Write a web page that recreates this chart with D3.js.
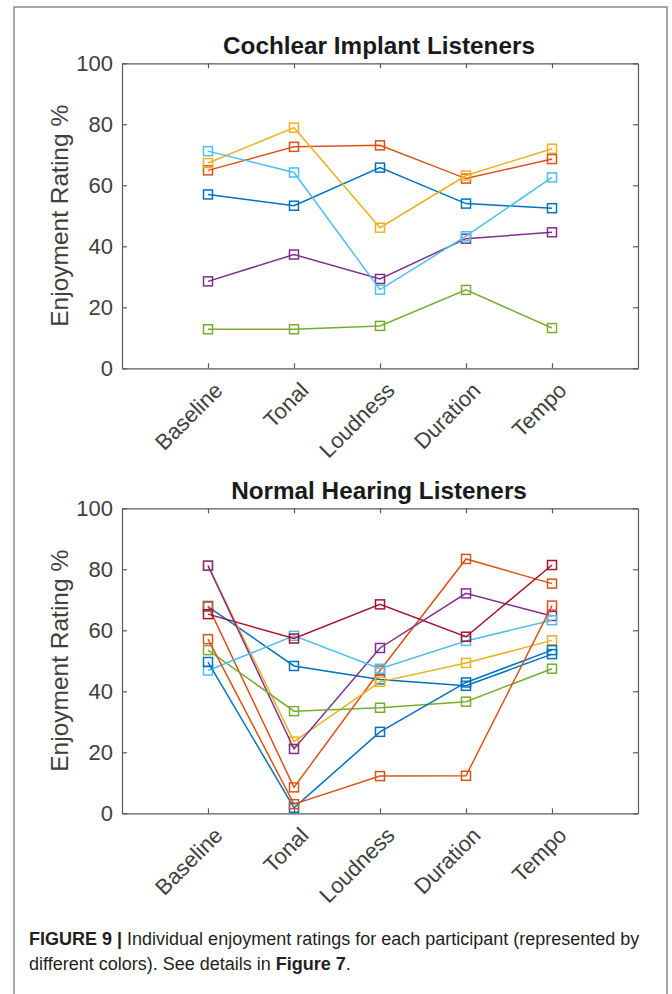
<!DOCTYPE html>
<html>
<head>
<meta charset="utf-8">
<script src="https://cdn.jsdelivr.net/npm/d3@7"></script>
<style>
  html, body { margin: 0; padding: 0; background: #fff; }
  svg { display: block; }
  text { font-family: "Liberation Sans", Arial, Helvetica, sans-serif; }
</style>
</head>
<body>
<svg id="chart" width="672" height="994"></svg>
<script>
// ---- Data ----
const categories = ["Baseline", "Tonal", "Loudness", "Duration", "Tempo"];
const yTicks = [0, 20, 40, 60, 80, 100];
const seriesColors = ["#0072BD", "#D95319", "#EDB120", "#7E2F8E", "#77AC30", "#4DBEEE", "#A2142F", "#0072BD", "#D95319"];

// Cochlear implant listeners (one array per participant)
const ci1 = [57.0, 53.3, 65.8, 54.0, 52.5];
const ci2 = [64.9, 72.6, 73.1, 62.2, 68.6];
const ci3 = [67.3, 78.9, 46.1, 63.2, 72.0];
const ci4 = [28.5, 37.3, 29.3, 42.5, 44.6];
const ci5 = [12.8, 12.8, 13.9, 25.7, 13.2];
const ci6 = [71.2, 64.2, 25.8, 43.3, 62.6];

// Normal hearing listeners
const nh1 = [67.8, 48.3, 43.9, 41.8, 52.2];
const nh2 = [68.0, 8.5, 46.8, 83.4, 75.3];
const nh3 = [81.2, 23.5, 43.1, 49.3, 56.7];
const nh4 = [81.2, 21.1, 54.2, 72.1, 64.7];
const nh5 = [53.5, 33.5, 34.6, 36.6, 47.4];
const nh6 = [46.8, 58.2, 47.4, 56.5, 63.3];
const nh7 = [65.3, 57.3, 68.5, 57.9, 81.4];
const nh8 = [49.6, 1.8, 26.7, 42.9, 53.5];
const nh9 = [57.1, 3.0, 12.2, 12.3, 68.1];

const ciSeries = [ci1, ci2, ci3, ci4, ci5, ci6];
const nhSeries = [nh1, nh2, nh3, nh4, nh5, nh6, nh7, nh8, nh9];

const titles = ["Cochlear Implant Listeners", "Normal Hearing Listeners"];
const yLabel = "Enjoyment Rating %";

// ---- Drawing ----
const svg = d3.select("#chart");
const axisColor = "#5a5a5a";
const textColor = "#404040";

// outer figure frame (open at the bottom)
svg.append("path")
  .attr("d", "M14,994 L14,7 L667,7 L667,994")
  .attr("fill", "none")
  .attr("stroke", "#8a8a8a")
  .attr("stroke-width", 1.5);

const x = d3.scaleLinear().domain([0, 6]).range([122, 638]);

function panel(bottomY, title, series) {
  const y = d3.scaleLinear().domain([0, 100]).range([bottomY, bottomY - 305]);
  const g = svg.append("g");

  // axes box with inward ticks
  const gb = g.append("g").attr("transform", `translate(0,${bottomY})`)
    .call(d3.axisBottom(x).tickValues([1, 2, 3, 4, 5]).tickSizeInner(-5).tickSizeOuter(0)
      .tickFormat(d => categories[d - 1]));
  gb.selectAll(".tick text")
    .attr("x", 0).attr("y", 0).attr("dy", "0.35em")
    .attr("text-anchor", "end")
    .attr("transform", "translate(10,18) rotate(-45)")
    .attr("font-size", 22)
    .attr("fill", textColor)
    .attr("font-family", "Liberation Sans, Arial, sans-serif");

  g.append("g").attr("transform", `translate(0,${bottomY - 305})`)
    .call(d3.axisTop(x).tickValues([1, 2, 3, 4, 5]).tickSizeInner(-5).tickSizeOuter(0).tickFormat(""));

  const gl = g.append("g").attr("transform", `translate(122,0)`)
    .call(d3.axisLeft(y).tickValues(yTicks).tickSizeInner(-5).tickSizeOuter(0).tickPadding(9));
  gl.selectAll(".tick text")
    .attr("font-size", 22)
    .attr("fill", textColor)
    .attr("font-family", "Liberation Sans, Arial, sans-serif");

  g.append("g").attr("transform", `translate(638,0)`)
    .call(d3.axisRight(y).tickValues(yTicks).tickSizeInner(-5).tickSizeOuter(0).tickFormat(""));

  g.selectAll(".domain, .tick line").attr("stroke", axisColor).attr("stroke-width", 1.2);

  // title
  g.append("text")
    .attr("x", 379).attr("y", bottomY - 314)
    .attr("text-anchor", "middle")
    .attr("font-size", 24.3).attr("font-weight", "bold")
    .attr("fill", "#1a1a1a")
    .text(title);

  // y label
  g.append("text")
    .attr("transform", `translate(68,${bottomY - 152.5}) rotate(-90)`)
    .attr("text-anchor", "middle")
    .attr("font-size", 24.5)
    .attr("fill", textColor)
    .text(yLabel);

  // lines and markers
  const line = d3.line().x((d, i) => x(i + 1)).y(d => y(d));
  series.forEach((s, k) => {
    const c = seriesColors[k];
    g.append("path").datum(s)
      .attr("d", line)
      .attr("fill", "none")
      .attr("stroke", c)
      .attr("stroke-width", 1.5);
    g.selectAll(null).data(s).enter().append("rect")
      .attr("x", (d, i) => x(i + 1) - 4.5)
      .attr("y", d => y(d) - 4.5)
      .attr("width", 9).attr("height", 9)
      .attr("fill", "none")
      .attr("stroke", c)
      .attr("stroke-width", 1.5);
  });
}

panel(368.3, titles[0], ciSeries);
panel(813.3, titles[1], nhSeries);

// caption
const cap = svg.append("g").attr("font-size", 18).attr("fill", "#231f20");
const l1 = cap.append("text").attr("x", 29).attr("y", 945);
l1.append("tspan").attr("font-weight", "bold").text("FIGURE 9 | ");
l1.append("tspan").text("Individual enjoyment ratings for each participant (represented by");
const l2 = cap.append("text").attr("x", 29).attr("y", 970);
l2.append("tspan").text("different colors). See details in ");
l2.append("tspan").attr("font-weight", "bold").text("Figure 7");
l2.append("tspan").text(".");
</script>
</body>
</html>
